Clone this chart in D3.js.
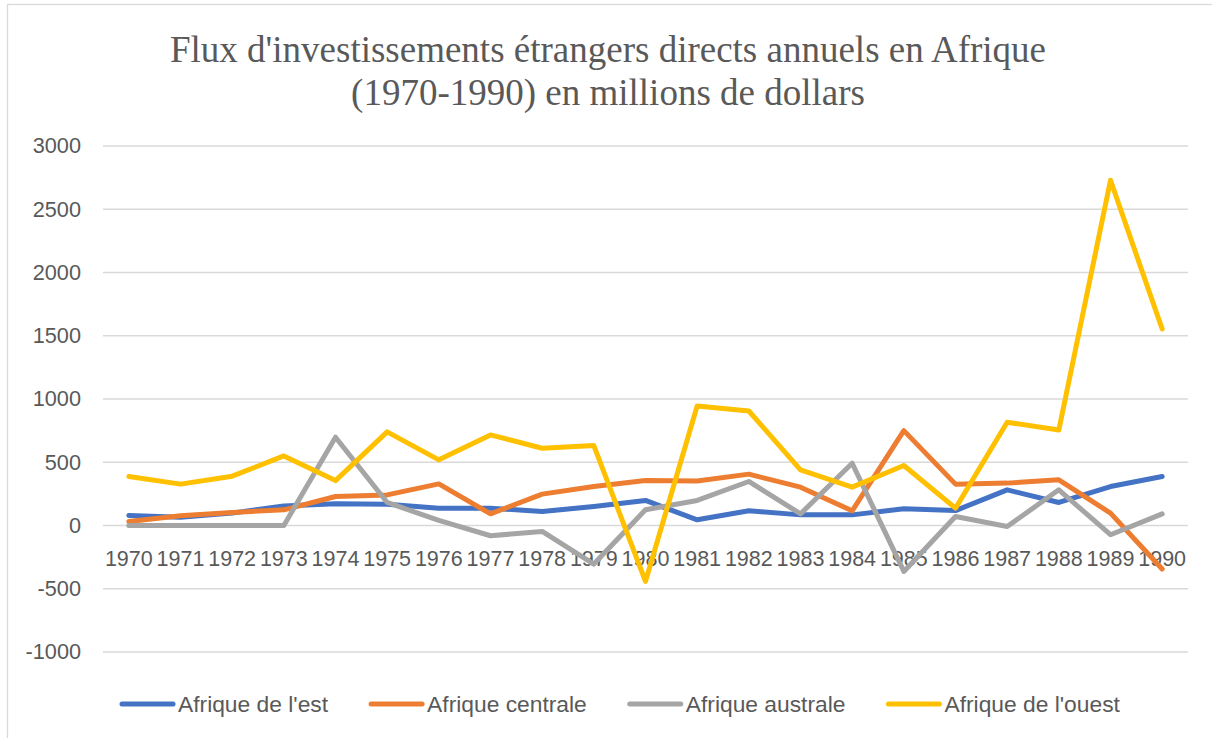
<!DOCTYPE html>
<html>
<head>
<meta charset="utf-8">
<script src="https://cdn.jsdelivr.net/npm/d3@7"></script>
<style>
  body { margin: 0; background: #fff; }
  text { fill: #595959; }
</style>
</head>
<body>
<div id="chart"></div>
<script>
// Data (millions de dollars)
var years = ["1970", "1971", "1972", "1973", "1974", "1975", "1976", "1977", "1978", "1979", "1980",
             "1981", "1982", "1983", "1984", "1985", "1986", "1987", "1988", "1989", "1990"];
var afriqueEst = [80, 65, 98, 155, 171, 168, 137, 137, 111, 150, 198, 45, 116, 84, 84, 132, 118, 282, 182, 308, 387];
var afriqueCentrale = [32, 77, 103, 124, 229, 242, 329, 92, 248, 308, 355, 352, 406, 303, 116, 750, 327, 335, 361, 98, -344];
var afriqueAustrale = [0, 0, 0, 0, 698, 182, 40, -81, -47, -305, 124, 198, 348, 92, 492, -363, 71, -8, 282, -73, 92];
var afriqueOuest = [387, 327, 390, 550, 355, 740, 519, 716, 611, 632, -442, 945, 905, 440, 303, 474, 137, 816, 755, 2729, 1553];
var yTicks = [-1000, -500, 0, 500, 1000, 1500, 2000, 2500, 3000];

var seriesNames = ["Afrique de l'est", "Afrique centrale", "Afrique australe", "Afrique de l'ouest"];
var seriesColors = ["#4472C4", "#ED7D31", "#A5A5A5", "#FFC000"];
var seriesValues = [afriqueEst, afriqueCentrale, afriqueAustrale, afriqueOuest];

var svgWidth = 1212;
var svgHeight = 738;

var plot = { left: 103, right: 1188, top: 146, bottom: 652 };
var labelFont = "Liberation Sans, Arial, sans-serif";

var svg = d3.select("#chart")
    .append("svg")
    .attr("width", svgWidth)
    .attr("height", svgHeight);

// chart area border
svg.append("rect")
    .attr("x", 7.5)
    .attr("y", 4.5)
    .attr("width", svgWidth)
    .attr("height", svgHeight)
    .attr("fill", "none")
    .attr("stroke", "#d9d9d9")
    .attr("stroke-width", 1.3);

// Title
var title = svg.append("text")
    .attr("text-anchor", "middle")
    .attr("font-family", "Liberation Serif, Times New Roman, serif")
    .attr("font-size", "37px");
title.append("tspan").attr("x", 608).attr("y", 62).text("Flux d'investissements étrangers directs annuels en Afrique");
title.append("tspan").attr("x", 608).attr("y", 105).text("(1970-1990) en millions de dollars");

// Scales
var xScale = d3.scaleBand()
    .domain(years)
    .range([plot.left, plot.right]);

var yScale = d3.scaleLinear()
    .domain([-1000, 3000])
    .range([plot.bottom, plot.top]);

// Gridlines
svg.append("g")
    .selectAll("line")
    .data(yTicks)
    .enter()
    .append("line")
    .attr("x1", plot.left)
    .attr("x2", plot.right)
    .attr("y1", d => yScale(d))
    .attr("y2", d => yScale(d))
    .attr("stroke", "#d9d9d9")
    .attr("stroke-width", 1.3);

// Y axis labels
var leftAxis = d3.axisLeft(yScale)
    .tickValues(yTicks)
    .tickFormat(d => String(d))
    .tickSize(0)
    .tickPadding(0);
var yAxis = svg.append("g")
    .attr("transform", "translate(81,0)")
    .call(leftAxis);
yAxis.select(".domain").remove();
yAxis.selectAll("text")
    .attr("font-family", labelFont)
    .attr("font-size", "21.7px")
    .attr("fill", "#595959");

// X axis labels sit just below zero line
var bottomAxis = d3.axisBottom(xScale).tickSize(0).tickPadding(0);
var xAxis = svg.append("g")
    .attr("transform", `translate(0, ${yScale(0)})`)
    .call(bottomAxis);
xAxis.select(".domain").remove();
xAxis.selectAll("text")
    .attr("dy", null)
    .attr("y", 40)
    .attr("font-family", labelFont)
    .attr("font-size", "21.5px")
    .attr("fill", "#595959");

// Lines
var line = d3.line()
    .x((d, i) => xScale(years[i]) + xScale.bandwidth() / 2)
    .y(d => yScale(d));

svg.append("g")
    .selectAll("path")
    .data(seriesValues)
    .enter()
    .append("path")
    .attr("d", d => line(d))
    .attr("fill", "none")
    .attr("stroke", (d, i) => seriesColors[i])
    .attr("stroke-width", 5)
    .attr("stroke-linejoin", "round")
    .attr("stroke-linecap", "round");

// Legend
var legend = svg.append("g").attr("transform", "translate(0, 704)");
var legendX = 122;
seriesNames.forEach((name, i) => {
    legend.append("line")
        .attr("x1", legendX)
        .attr("x2", legendX + 51)
        .attr("y1", 0)
        .attr("y2", 0)
        .attr("stroke", seriesColors[i])
        .attr("stroke-width", 5)
        .attr("stroke-linecap", "round");
    var t = legend.append("text")
        .attr("x", legendX + 56)
        .attr("y", 8)
        .attr("font-family", labelFont)
        .attr("font-size", "22.8px")
        .attr("fill", "#595959")
        .text(name);
    legendX = legendX + 56 + t.node().getComputedTextLength() + 43;
});
</script>
</body>
</html>
